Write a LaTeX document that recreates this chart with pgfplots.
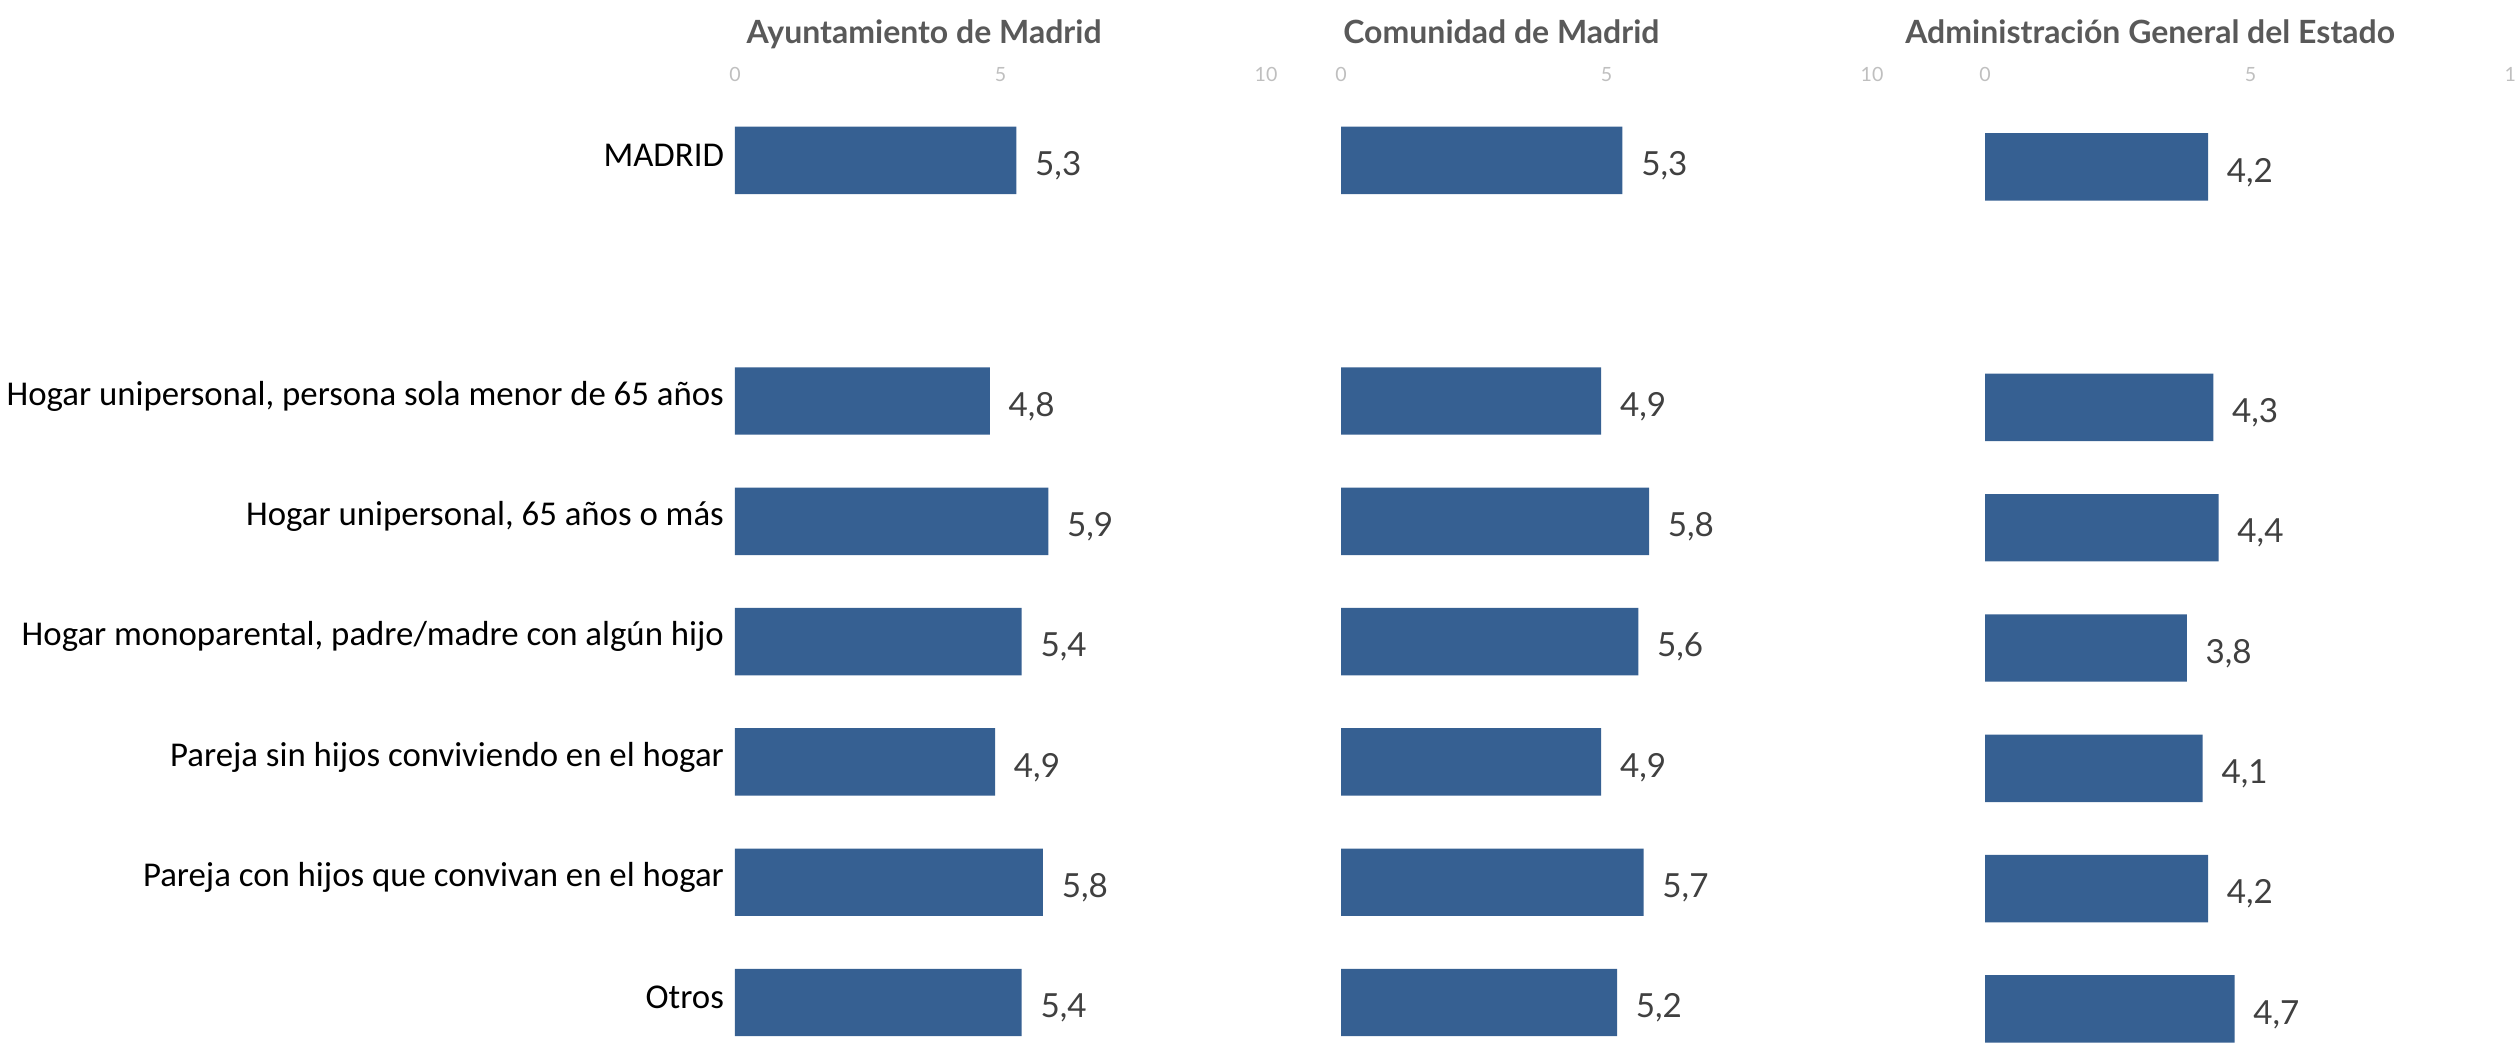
\documentclass[border=0pt]{standalone}
\usepackage{fontspec}
\setmainfont{Lato}
\newfontfamily\carlito{Carlito}
\usepackage{pgfplots}
\pgfplotsset{compat=1.18}

\definecolor{barblue}{RGB}{54,96,146}
\definecolor{valgray}{RGB}{64,64,64}
\definecolor{titlegray}{RGB}{89,89,89}
\definecolor{tickgray}{RGB}{191,191,191}

% one full pixel of the reference = 0.25pt
\pgfplotsset{panel/.style={
    xbar, scale only axis, clip=false,
    width=132.75pt, height=261.25pt,
    xmin=0, xmax=10,
    ymin=-7.353, ymax=1.334,
    bar width=16.85pt,
    axis line style={draw=none}, tick style={draw=none},
    xtick={0,5,10}, xticklabel pos=upper,
    /pgf/number format/assume math mode=true,
    xticklabel style={font=\fontsize{4.9}{5}\selectfont, text=tickgray,
        anchor=base, yshift=-20.3pt},
    ytick=\empty,
    title style={anchor=base, yshift=-17pt,
        font=\bfseries\fontsize{8}{10}\selectfont, text=titlegray},
    point meta=x,
    nodes near coords={\pgfmathprintnumber[fixed,fixed zerofill,precision=1,use comma]{\pgfplotspointmeta}},
    every node near coord/.append style={anchor=west, inner sep=0pt, xshift=4.5pt,
        yshift=-1.4pt, font=\fontsize{8.3}{9}\selectfont, text=valgray},
}}

\begin{document}
\begin{tikzpicture}

% Ayuntamiento de Madrid
\begin{axis}[panel, at={(250.125pt,130.625pt)}, anchor=center,
    title={Ayuntamiento de Madrid}, title style={at={(0.356,1)}},
    ytick={0,-2,-3,-4,-5,-6,-7},
    yticklabels={MADRID,
        {Hogar unipersonal, persona sola menor de 65 años},
        {Hogar unipersonal, 65 años o más},
        {Hogar monoparental, padre/madre con algún hijo},
        Pareja sin hijos conviviendo en el hogar,
        Pareja con hijos que convivan en el hogar,
        Otros},
    yticklabel style={font=\carlito\fontsize{8.7}{10}\selectfont, text=black,
        inner sep=0pt, xshift=1.7pt, yshift=1.2pt},
]
\addplot[draw=none, fill=barblue] coordinates {
(5.3,0) (4.8,-2) (5.9,-3) (5.4,-4) (4.9,-5) (5.8,-6) (5.4,-7)
};
\end{axis}

% Comunidad de Madrid
\begin{axis}[panel, at={(401.625pt,130.625pt)}, anchor=center,
    title={Comunidad de Madrid}, title style={at={(0.302,1)}},
]
\addplot[draw=none, fill=barblue] coordinates {
(5.3,0) (4.9,-2) (5.8,-3) (5.6,-4) (4.9,-5) (5.7,-6) (5.2,-7)
};
\end{axis}

% Administracion General del Estado
\begin{axis}[panel, at={(562.625pt,130.625pt)}, anchor=center,
    ymin=-7.300, ymax=1.387,
    title={Administración General del Estado}, title style={at={(0.311,1)}},
]
\addplot[draw=none, fill=barblue] coordinates {
(4.2,0) (4.3,-2) (4.4,-3) (3.8,-4) (4.1,-5) (4.2,-6) (4.7,-7)
};
\end{axis}

\pgfresetboundingbox
\path[use as bounding box] (0,0) rectangle (629pt,261.25pt);
\end{tikzpicture}
\end{document}
